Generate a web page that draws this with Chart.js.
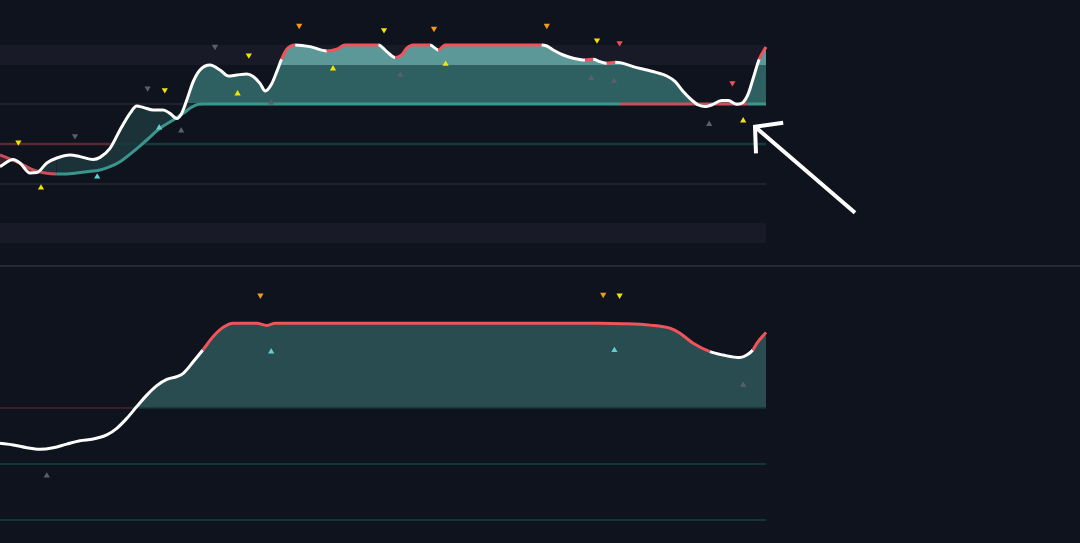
<!DOCTYPE html>
<html><head><meta charset="utf-8">
<script src="https://cdn.jsdelivr.net/npm/chart.js@4.4.1/dist/chart.umd.min.js"></script>
<style>
html,body{margin:0;padding:0;background:#0f131e;width:1080px;height:543px;overflow:hidden}
#top{position:absolute;left:0;top:0}
#sep{position:absolute;left:0;top:265px;width:1080px;height:2px;background:#262a36}
#bot{position:absolute;left:0;top:267px}
</style></head><body>
<canvas id="top" width="1080" height="265"></canvas>
<div id="sep"></div>
<canvas id="bot" width="1080" height="276"></canvas>
<script>
// ---------- DATA ----------
// oscillator (upper pane), x = bar index
const oscBars = [0,3.3,5,7.5,9.2,11.7,14.2,17.5,20,23.3,25,27.5,30,32.5,34.2,35.8,38.3,40.8,42.5,44.2,45.4,46.7,48.3,50,52.5,55,57.1,59.2,61.7,63.3,65,66.3,67.9,69.2,70.4,71.7,73.8,77.5,81.7,84.2,86.3,94.6,96.7,98.8,100.4,101.7,103.3,107.5,109.6,111.3,135.4,136.7,138.3,140.8,143.3,146.3,148.3,150,151.7,153.8,155,158.3,161.7,164.2,166.7,168.8,170.8,172.9,174.6,176.3,177.9,180.4,182.1,184.2,185.7,187.1,188.3,189.8,191.5];
const oscValues = [-11.3,-7.7,-9.5,-14.5,-14.3,-9.5,-7,-5.5,-6.3,-7.7,-6.7,-2.2,7,15.3,19,18.3,17,17,15.3,12.8,15.3,22,31.2,37,39.5,37,34,34.5,35,33.7,30.3,26.5,30,36.2,42.4,47.4,49.5,48.7,46.5,47.4,49.5,49.5,46.2,43.2,44.5,47.9,49.5,49.5,47,49.5,49.5,49,47,44.5,42.9,42,42.4,41.2,40.4,40.9,40.7,38.7,37,35.7,34,31.2,26.2,22,19.5,18.7,19.5,21.7,21.7,19.9,20.7,25.3,32.9,42.4,48.5];
// signal line (upper pane)
const sigBars = [0,5,8.3,14.2,16.7,21.7,25,27.5,30,33.3,36.7,40,43.3,45.8,47.9,49.6,51,155,186.9,191.5];
const sigValues = [-5.5,-9.65,-13,-15,-15,-13.85,-13,-11.35,-8.85,-3.85,2,7.85,12,15.35,18.35,19.85,20,20,20,20];
const sigRegime = [-1,-1,-1,1,1,1,1,1,1,1,1,1,1,1,1,1,1,-1,1,1];
// momentum (lower pane)
const momBars = [0,3.3,6.7,10,13.3,16.7,20,23.3,26.7,29.2,31.7,34.2,36.7,39.2,41.7,44.2,45.8,48.3,50.7,53.3,55.8,58.3,64.2,66.7,68.75,150,155.8,162.5,167.5,170,173.3,177.5,180.8,185,186.7,188.2,189.2,191.5];
const momValues = [-12.6,-13.2,-14.2,-14.75,-14.2,-12.9,-11.7,-11.1,-9.6,-7.25,-3.7,0.5,4.6,8,10.25,11.2,12.4,16.5,20.7,25.5,28.8,30.25,30.25,29.5,30.25,30.25,30.1,29.6,28.5,26.7,23.1,20.1,18.9,18,18.9,20.7,23.1,27.0];
// levels
const lastBar = 191.5;
const topOB = [39.5, 49.5], topOS = [-49.5, -39.5];
const topLevels = [20, -20];
const topZeroFlip = 27.7;
const botZeroFlip = 33.4;
const botLevels = [-20, -40];
// signal markers
const topMarkBars = [4.6,10.25,18.75,24.3,36.9,41.2,39.8,45.3,53.75,62.2,59.4,67.75,74.8,83.25,96,108.5,100.1,111.4,136.7,149.25,154.9,147.8,153.5,183.1,177.3,185.8];
const topMarkValues = [0.9,-21.9,4,-16.4,27.9,27,8.2,6.7,48.7,44.4,25.2,20.7,59.2,37.7,57,57.7,34.5,40,59.2,51.9,50.5,32.9,31.5,30.5,9.9,11.7];
const topMarkKinds = ['yd','yu','gd','cu','gd','yd','cu','gu','gd','yd','yu','gu','od','yu','yd','od','gu','yu','od','yd','rd','gu','gu','rd','gu','yu'];
const botMarkBars = [65.1,67.8,11.7,150.8,154.9,153.6,185.8];
const botMarkValues = [40.25,20.1,-24.2,40.5,40.25,20.6,8.2];
const botMarkKinds = ['od','cu','gu','od','yd','cu','gu'];
// annotation arrow
const arrowHeadBars = [195.8,188.75,189];
const arrowHeadValues = [10.65,8.65,-4.65];
const arrowShaftBars = [188.75,213.75];
const arrowShaftValues = [8.65,-34.35];

// ---------- STYLE ----------
const C = {
  band:'#181b27', grey:'#1f2330', zeroTeal:'#133b3d', zeroRed:'#5a2a33',
  sigTeal:'#3a968c', sigRed:'#c8505a', white:'#ffffff', red:'#f0545a',
  dark:'#1c3239', darkRed:'#3a1f2a', mid:'#2e6061', light:'#5c9898',
  botFill:'#294c50', botRed:'#4a2530', botTeal:'#12363a'
};
const MK = {y:'#f5e400', o:'#f59a1a', g:'#5b5f6c', c:'#5fd0d0', r:'#f0505a'};

const pts = (xs, ys) => xs.map((x, i) => ({x, y: ys[i]}));
const hline = (v) => [{x:0, y:v}, {x:lastBar, y:v}];
const X_MAX = 1080 / (766 / lastBar);

function baseOpts(ymin, ymax) {
  return {
    responsive:false, animation:false, events:[],
    layout:{padding:0, autoPadding:false},
    plugins:{legend:{display:false}, tooltip:{enabled:false}},
    elements:{point:{radius:0}},
    scales:{
      x:{type:'linear', min:0, max:X_MAX, display:false},
      y:{type:'linear', min:ymin, max:ymax, display:false}
    }
  };
}
function markerSet(bars, vals, kinds) {
  return {
    data: pts(bars, vals), showLine:false, order:0,
    pointStyle:'triangle', pointRadius:3.6, pointBorderWidth:0,
    pointBackgroundColor: c => MK[kinds[c.dataIndex][0]],
    pointRotation: c => kinds[c.dataIndex][1] === 'd' ? 180 : 0
  };
}
const fillCopy = (xs, ys, fill, order) => ({
  data: pts(xs, ys), borderWidth:0, borderColor:'transparent',
  cubicInterpolationMode:'monotone', fill, order
});

// ---------- UPPER PANE ----------
new Chart(document.getElementById('top'), {
  type:'line',
  data:{datasets:[
    markerSet(topMarkBars, topMarkValues, topMarkKinds),                        // 0
    {data: pts(arrowHeadBars, arrowHeadValues), borderColor:C.white, borderWidth:4, order:0, tension:0, borderJoinStyle:'miter'}, // 1
    {data: pts(arrowShaftBars, arrowShaftValues), borderColor:C.white, borderWidth:4, order:0, tension:0}, // 2
    {data: pts(oscBars, oscValues), borderColor:C.white, borderWidth:3, order:1,
      cubicInterpolationMode:'monotone', fill:false,
      segment:{borderColor: c => (c.p0.parsed.y >= 40 && c.p1.parsed.y >= c.p0.parsed.y - 0.01) ? C.red : C.white}}, // 3
    {data: pts(sigBars, sigValues), borderColor:C.sigTeal, borderWidth:3, order:2,
      cubicInterpolationMode:'monotone', fill:false,
      segment:{borderColor: c => sigRegime[c.p0DataIndex] < 0 ? C.sigRed : C.sigTeal}}, // 4
    {data: [{x:0,y:0},{x:topZeroFlip,y:0},{x:lastBar,y:0}], borderWidth:2.5, order:3, borderColor:C.zeroTeal,
      segment:{borderColor: c => c.p0.parsed.x < topZeroFlip ? C.zeroRed : C.zeroTeal}}, // 5
    {data: hline(topLevels[0]), borderColor:C.grey, borderWidth:2, order:3}, // 6
    {data: hline(topLevels[1]), borderColor:C.grey, borderWidth:2, order:3}, // 7
    fillCopy(oscBars, oscValues, {target:{value:topOB[0]}, above:C.light, below:'transparent'}, 4), // 8
    fillCopy(oscBars, oscValues, {target:{value:topLevels[0]}, above:C.mid, below:'transparent'}, 5), // 9
    fillCopy(oscBars, oscValues, {target:4, above:C.dark, below:C.darkRed}, 6), // 10
    {data: hline(topOB[1]), borderWidth:0, borderColor:'transparent', backgroundColor:C.band, fill:{target:{value:topOB[0]}, above:C.band, below:C.band}, order:7}, // 11
    {data: hline(topOS[1]), borderWidth:0, borderColor:'transparent', backgroundColor:C.band, fill:{target:{value:topOS[0]}, above:C.band, below:C.band}, order:7}  // 12
  ]},
  options: baseOpts((144-265)/2, 72)
});

// ---------- LOWER PANE ----------
new Chart(document.getElementById('bot'), {
  type:'line',
  data:{datasets:[
    markerSet(botMarkBars, botMarkValues, botMarkKinds),
    {data: pts(momBars, momValues), borderColor:C.white, borderWidth:3, order:1,
      cubicInterpolationMode:'monotone', fill:false,
      segment:{borderColor: c => c.p0.parsed.y >= 20.4 ? C.red : C.white}},
    fillCopy(momBars, momValues, {target:{value:0}, above:C.botFill, below:'transparent'}, 3),
    {data: [{x:0,y:0},{x:botZeroFlip,y:0},{x:lastBar,y:0}], borderWidth:1.5, order:2, borderColor:C.botTeal,
      segment:{borderColor: c => c.p0.parsed.x < botZeroFlip ? C.botRed : C.botTeal}},
    {data: hline(botLevels[0]), borderColor:C.botTeal, borderWidth:2, order:2},
    {data: hline(botLevels[1]), borderColor:C.botTeal, borderWidth:2, order:2}
  ]},
  options: baseOpts((408-543)/2.8, (408-267)/2.8)
});
</script></body></html>
